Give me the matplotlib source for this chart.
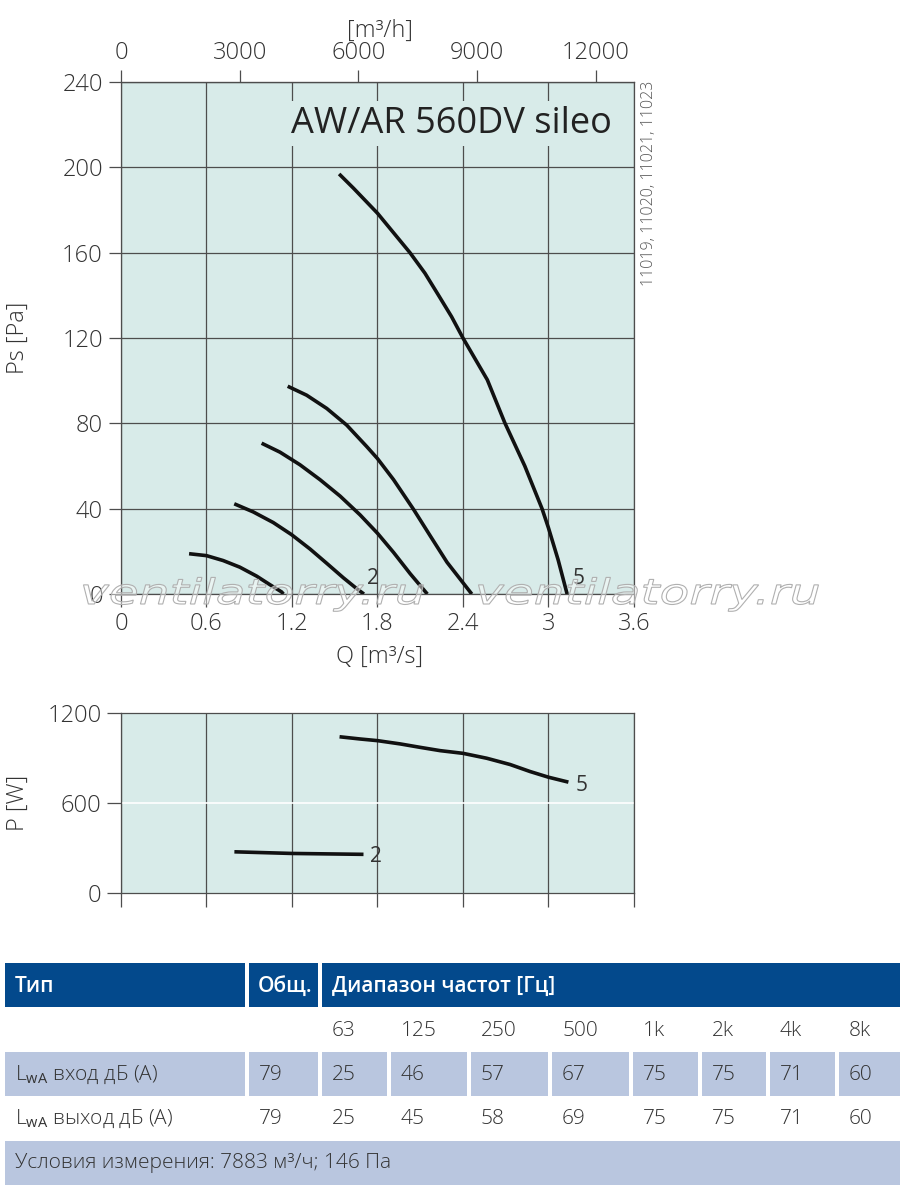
import matplotlib
matplotlib.use('Agg')
import matplotlib.pyplot as plt
from matplotlib import font_manager as fm
from matplotlib.patches import Rectangle, PathPatch
from matplotlib.textpath import TextPath
from matplotlib.transforms import Affine2D, IdentityTransform

# --- data ---
q1 = [0.478, 0.6, 0.717, 0.834, 0.952, 1.045, 1.127, 1.14]
ps1 = [18.9, 18.0, 15.7, 12.6, 8.4, 4.4, 1.0, 0]
q2 = [0.795, 0.928, 1.069, 1.198, 1.327, 1.444, 1.561, 1.655, 1.705]
ps2 = [42.3, 38.5, 33.5, 27.8, 21.1, 14.4, 7.6, 2.5, 0]
q3 = [0.987, 1.116, 1.256, 1.397, 1.538, 1.678, 1.8, 1.913, 2.03, 2.15]
ps3 = [70.7, 66.5, 60.6, 53.6, 45.9, 37.1, 28.5, 19.5, 9.5, 0]
q4 = [1.17, 1.303, 1.444, 1.584, 1.725, 1.8, 1.913, 2.053, 2.17, 2.288, 2.462]
ps4 = [97.4, 93.2, 87.0, 79.2, 69.1, 63.5, 53.6, 39.7, 27.3, 14.9, 0]
q5 = [1.531, 1.632, 1.8, 2.028, 2.133, 2.227, 2.32, 2.4, 2.571, 2.694,
      2.834, 2.955, 3.0, 3.068, 3.131]
ps5 = [196.9, 190.2, 178.5, 160, 150.4, 140.2, 130, 120, 100.4, 80.2,
       60, 40, 31, 16, 0]

pq2 = [0.796, 1.2, 1.702]
pw2 = [273, 262, 256]
pq5 = [1.534, 1.679, 1.8, 1.96, 2.1, 2.24, 2.4, 2.567, 2.731, 2.871, 3.0, 3.14]
pw5 = [1044, 1029, 1018, 996, 973, 951, 933, 900, 858, 811, 773, 740]

freqs = ['63', '125', '250', '500', '1k', '2k', '4k', '8k']
lwa_in_total = 79
lwa_in = [25, 46, 57, 67, 75, 75, 71, 60]
lwa_out_total = 79
lwa_out = [25, 45, 58, 69, 75, 75, 71, 60]

# --- fonts ---
def have(name):
    try:
        fm.findfont(fm.FontProperties(family=name), fallback_to_default=False)
        return True
    except Exception:
        return False

fam = 'Open Sans' if have('Open Sans') else 'DejaVu Sans'
plt.rcParams['font.family'] = [fam, 'DejaVu Sans']
plt.rcParams['mathtext.fontset'] = 'custom'
plt.rcParams['mathtext.rm'] = fam

bg = '#d8ebe9'
gridc = '#4d4d4d'
txt = '#333333'
lw_curve = 2.6

fig = plt.figure(figsize=(9, 11.85), dpi=100)

# --- main chart ---
ax = fig.add_axes([0.1344, 0.4987, 0.57, 0.4321])
ax.set_facecolor(bg)
ax.set_xlim(0, 3.6)
ax.set_ylim(0, 240)
ax.set_xticks([0, 0.6, 1.2, 1.8, 2.4, 3.0, 3.6])
ax.set_xticklabels(['0', '0.6', '1.2', '1.8', '2.4', '3', '3.6'])
ax.set_yticks(range(0, 241, 40))
ax.grid(True, color=gridc, lw=0.9)
ax.set_axisbelow(True)
ax.tick_params(direction='out', length=9, width=0.9, color=gridc,
               labelsize=17, labelcolor=txt, pad=4)
for s in ax.spines.values():
    s.set_color(gridc)
    s.set_linewidth(0.9)

for q, p in [(q1, ps1), (q2, ps2), (q3, ps3), (q4, ps4), (q5, ps5)]:
    ax.plot(q, p, color='#111111', lw=lw_curve, solid_capstyle='butt',
            solid_joinstyle='round', zorder=3)
ax.text(q2[-1] + 0.02, 7.5, '2', fontsize=15, color=txt, va='center')
ax.text(q5[-1] + 0.04, 7.5, '5', fontsize=15, color=txt, va='center')

ax.text(1.19, 220.5, 'AW/AR 560DV sileo', fontsize=26, color='#222222',
        va='center', ha='left', zorder=4,
        bbox=dict(boxstyle='square,pad=0.12', fc=bg, ec='none'))

top = ax.secondary_xaxis('top', functions=(lambda x: x * 3600, lambda x: x / 3600))
top.set_xticks([0, 3000, 6000, 9000, 12000])
top.tick_params(direction='out', length=9, width=0.9, color=gridc,
                labelsize=17, labelcolor=txt, pad=3)
top.spines['top'].set_color(gridc)

for lab in ax.get_xticklabels() + ax.get_yticklabels() + top.get_xticklabels():
    lab.set_fontweight('light')

fig.text(380 / 900, 1 - 657 / 1185, 'Q [m³/s]', fontsize=17, color=txt,
         ha='center', va='center', weight='light')
fig.text(380 / 900, 1 - 31 / 1185, '[m³/h]', fontsize=17, color=txt,
         ha='center', va='center', weight='light')
fig.text(18 / 900, 1 - 338 / 1185, 'Ps [Pa]', fontsize=17, color=txt,
         ha='center', va='center', rotation=90, weight='light')
fig.text(649 / 900, 1 - 183 / 1185, '11019, 11020, 11021, 11023', fontsize=11.5,
         color='#555555', ha='center', va='center', rotation=90, weight='light')

# --- power chart ---
ax2 = fig.add_axes([0.1344, 0.2468, 0.57, 0.1511])
ax2.set_facecolor(bg)
ax2.set_xlim(0, 3.6)
ax2.set_ylim(0, 1200)
ax2.set_xticks([0, 0.6, 1.2, 1.8, 2.4, 3.0, 3.6])
ax2.set_xticklabels([])
ax2.set_yticks([0, 600, 1200])
ax2.xaxis.grid(True, color=gridc, lw=0.9)
ax2.axhline(600, color='white', lw=1.2, zorder=1)
ax2.set_axisbelow(True)
ax2.tick_params(direction='out', length=10, width=0.9, color=gridc,
                labelsize=17, labelcolor=txt, pad=4)
for lab in ax2.get_yticklabels():
    lab.set_fontweight('light')
for s in ax2.spines.values():
    s.set_color(gridc)
    s.set_linewidth(0.9)
ax2.plot(pq2, pw2, color='#111111', lw=lw_curve, solid_capstyle='butt', zorder=3)
ax2.plot(pq5, pw5, color='#111111', lw=lw_curve, solid_capstyle='butt',
         solid_joinstyle='round', zorder=3)
ax2.text(pq2[-1] + 0.045, pw2[-1] - 15, '2', fontsize=15, color=txt, va='center')
ax2.text(pq5[-1] + 0.05, pw5[-1] - 20, '5', fontsize=15, color=txt, va='center')
fig.text(18 / 900, 1 - 803 / 1185, 'P [W]', fontsize=17, color=txt,
         ha='center', va='center', rotation=90, weight='light')

# --- watermark (hollow, stretched italic text) ---
wm = TextPath((0, 0), 'ventilatorry.ru', size=35,
              prop=fm.FontProperties(family='DejaVu Sans', style='oblique'))
sx = 340 / wm.get_extents().width
for x0 in (80, 475):
    tr = Affine2D().scale(sx, 1.0).translate(x0, 1185 - 604)
    fig.add_artist(PathPatch(tr.transform_path(wm), fc=(1, 1, 1, 0.45),
                             ec='#b0b0b0', lw=0.8,
                             transform=IdentityTransform(), zorder=10))

# --- table (pixel coordinates) ---
tb = fig.add_axes([0, 0, 1, 1], zorder=-1)
tb.set_xlim(0, 900)
tb.set_ylim(1185, 0)
tb.axis('off')

dark = '#03498c'
light = '#b9c6df'
cols = [(5, 245), (249, 318), (322, 387), (391, 467), (471, 548), (552, 629),
        (633, 698), (702, 766), (770, 835), (839, 900)]

# header
for (a, b) in [(5, 245), (249, 318), (322, 900)]:
    tb.add_patch(Rectangle((a, 963), b - a, 44, fc=dark, ec='none'))
hdr_kw = dict(fontsize=15, color='white', va='center', weight='semibold')
tb.text(15, 986, 'Тип', **hdr_kw)
tb.text(258, 986, 'Общ.', **hdr_kw)
tb.text(332, 986, 'Диапазон частот [Гц]', **hdr_kw)

cell_kw = dict(fontsize=15, color=txt, va='center', weight='light')
for (a, b), f in zip(cols[2:], freqs):
    tb.text(a + 10, 1031, f, **cell_kw)

for (a, b) in cols:
    tb.add_patch(Rectangle((a, 1052), b - a, 44, fc=light, ec='none'))
tb.text(15, 1075, r'L$_{\mathrm{wA}}$ вход дБ (A)', **cell_kw)
tb.text(cols[1][0] + 10, 1075, str(lwa_in_total), **cell_kw)
for (a, b), v in zip(cols[2:], lwa_in):
    tb.text(a + 10, 1075, str(v), **cell_kw)

tb.text(15, 1119, r'L$_{\mathrm{wA}}$ выход дБ (A)', **cell_kw)
tb.text(cols[1][0] + 10, 1119, str(lwa_out_total), **cell_kw)
for (a, b), v in zip(cols[2:], lwa_out):
    tb.text(a + 10, 1119, str(v), **cell_kw)

tb.add_patch(Rectangle((5, 1141), 895, 44, fc=light, ec='none'))
tb.text(15, 1163, 'Условия измерения: 7883 м³/ч; 146 Па', **cell_kw)

fig.savefig('out.png', dpi=100)
